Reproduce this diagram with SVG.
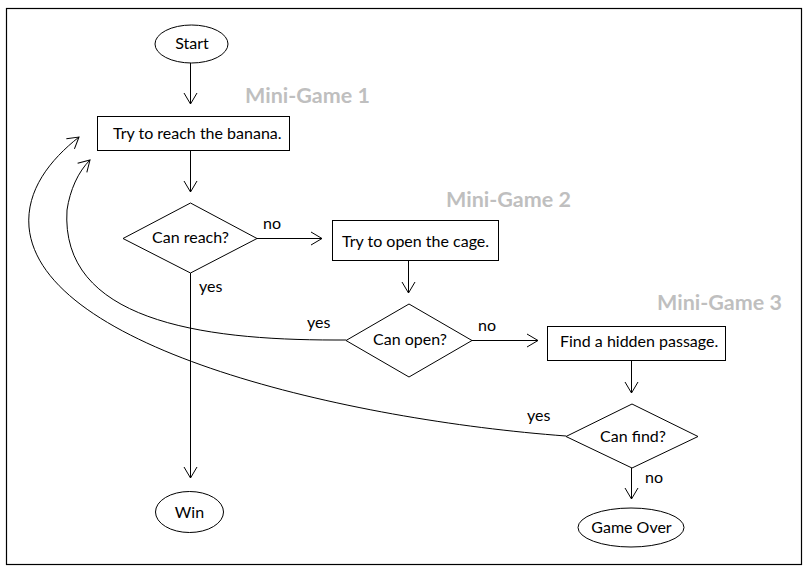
<svg xmlns="http://www.w3.org/2000/svg" width="809" height="572" viewBox="0 0 809 572">
<defs>
<style>
.shape{fill:#fff;stroke:#000;stroke-width:1}
.line{fill:none;stroke:#000;stroke-width:1}
.t{font-family:Lato,"Liberation Sans",sans-serif;font-size:16px;fill:#000}
.c{text-anchor:middle}
.mg{font-family:Lato,"Liberation Sans",sans-serif;font-size:21.5px;font-weight:bold;fill:#bfbfbf}
</style>
<marker id="arr" markerUnits="userSpaceOnUse" viewBox="0 0 12 14" markerWidth="12" markerHeight="14" refX="11" refY="7" orient="auto" overflow="visible">
<path d="M0,0.5 L11,7 L0,13.5" fill="none" stroke="#000" stroke-width="1"/>
</marker>
</defs>
<rect x="0" y="0" width="809" height="572" fill="#fff"/>
<rect x="6.5" y="8.5" width="795" height="556" fill="none" stroke="#000" stroke-width="1.2"/>

<g id="labels">
<text class="mg" x="245" y="103">Mini-Game 1</text>
<text class="mg" x="446" y="207">Mini-Game 2</text>
<text class="mg" x="657" y="310">Mini-Game 3</text>
</g>

<g id="connectors">
<line class="line" x1="190.5" y1="63" x2="190.5" y2="104" marker-end="url(#arr)"/>
<line class="line" x1="190.5" y1="150" x2="190.5" y2="192" marker-end="url(#arr)"/>
<line class="line" x1="257" y1="238.5" x2="322" y2="238.5" marker-end="url(#arr)"/>
<line class="line" x1="190.5" y1="273" x2="190.5" y2="478" marker-end="url(#arr)"/>
<line class="line" x1="408.5" y1="261" x2="408.5" y2="293" marker-end="url(#arr)"/>
<line class="line" x1="472" y1="340.5" x2="538" y2="340.5" marker-end="url(#arr)"/>
<line class="line" x1="631.5" y1="360" x2="631.5" y2="393" marker-end="url(#arr)"/>
<line class="line" x1="631.5" y1="468" x2="631.5" y2="499" marker-end="url(#arr)"/>
<path class="line" d="M346,340 L335,340 C200,340 60,320 67,210 C70,190 78,172 90,160" marker-end="url(#arr)"/>
<path class="line" d="M566,436 C350,420 40,350 29,227 C26,190 50,160 79,137" marker-end="url(#arr)"/>
<text class="t" x="263" y="229">no</text>
<text class="t" x="199" y="292">yes</text>
<text class="t" x="307" y="328">yes</text>
<text class="t" x="478" y="331">no</text>
<text class="t" x="527" y="421">yes</text>
<text class="t" x="645" y="483">no</text>
</g>

<g id="start">
<ellipse class="shape" cx="191.5" cy="44" rx="36.5" ry="19"/>
<text class="t c" x="192" y="49">Start</text>
</g>
<g id="reach-banana">
<rect class="shape" x="97.5" y="116.5" width="192" height="34"/>
<text class="t" x="113" y="139">Try to reach the banana.</text>
</g>
<g id="can-reach">
<polygon class="shape" points="190.5,203 257,238.5 190.5,273 123,238.5"/>
<text class="t c" x="190.5" y="243">Can reach?</text>
</g>
<g id="open-cage">
<rect class="shape" x="332.5" y="220.5" width="166" height="40"/>
<text class="t" x="342" y="247">Try to open the cage.</text>
</g>
<g id="can-open">
<polygon class="shape" points="409,304 472,340.5 409,377 346,340.5"/>
<text class="t c" x="410" y="345">Can open?</text>
</g>
<g id="hidden-passage">
<rect class="shape" x="547.5" y="326.5" width="178" height="34"/>
<text class="t" x="560" y="347">Find a hidden passage.</text>
</g>
<g id="can-find">
<polygon class="shape" points="632,404 698,436.5 632,468 566,436.5"/>
<text class="t c" x="633" y="442">Can find?</text>
</g>
<g id="win">
<ellipse class="shape" cx="189.5" cy="512" rx="34" ry="20.5"/>
<text class="t c" x="189.5" y="518">Win</text>
</g>
<g id="game-over">
<ellipse class="shape" cx="631" cy="527.5" rx="53" ry="19.5"/>
<text class="t c" x="631.5" y="533">Game Over</text>
</g>
</svg>
